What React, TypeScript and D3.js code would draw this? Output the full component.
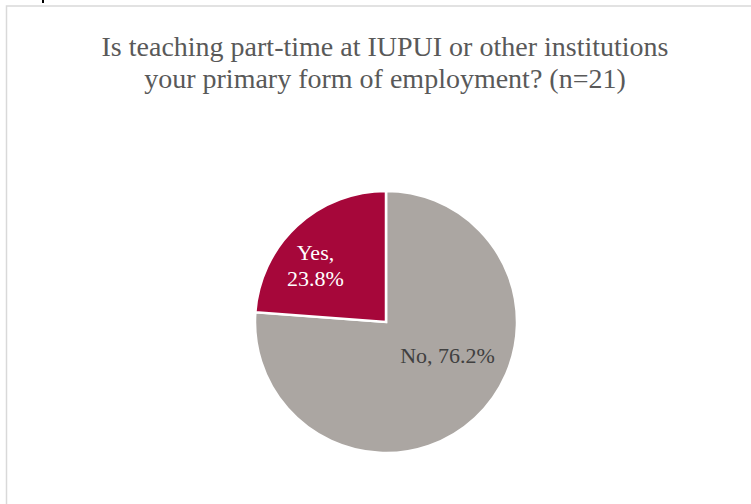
import * as React from "react";
import { arc, pie, PieArcDatum, scaleOrdinal } from "d3";

const categories = ["No", "Yes"];
const values = [76.2, 23.8];
const titleLines = [
  "Is teaching part-time at IUPUI or other institutions",
  "your primary form of employment? (n=21)",
];

const W = 751;
const H = 504;
const cx = 386;
const cy = 322;
const radius = 131;
const serif = "'Liberation Serif', 'DejaVu Serif', serif";

const colour = scaleOrdinal<string, string>()
  .domain(categories)
  .range(["#aba6a2", "#a6073a"]);

const textColour: Record<string, string> = { No: "#404040", Yes: "#ffffff" };

// excel "best fit" places the labels a bit off the mid angle
const labelNudge: Record<string, [number, number]> = {
  No: [1, -30],
  Yes: [-10, 10],
};

interface Datum {
  name: string;
  value: number;
}

const data: Datum[] = categories.map((name, i) => ({ name, value: values[i] }));

const Slice = (props: { d: PieArcDatum<Datum> }) => {
  const { d } = props;
  const shape = arc<PieArcDatum<Datum>>().innerRadius(0).outerRadius(radius);
  return (
    <path
      d={shape(d) || ""}
      fill={colour(d.data.name)}
      stroke="#ffffff"
      strokeWidth={2.5}
      strokeLinejoin="miter"
    />
  );
};

const Label = (props: { d: PieArcDatum<Datum> }) => {
  const { d } = props;
  const labelArc = arc<PieArcDatum<Datum>>()
    .innerRadius(radius * 0.68)
    .outerRadius(radius * 0.68);
  const [x, y] = labelArc.centroid(d);
  const [nx, ny] = labelNudge[d.data.name];
  const txt = `${d.data.name}, ${d.data.value.toFixed(1)}%`;
  const lines = d.data.name === "Yes" ? [`${d.data.name},`, `${d.data.value.toFixed(1)}%`] : [txt];
  const lh = 26;
  const y0 = y + ny - ((lines.length - 1) * lh) / 2 + 6;
  return (
    <text
      x={x + nx}
      y={y0}
      textAnchor="middle"
      fontFamily={serif}
      fontSize={22}
      fill={textColour[d.data.name]}
    >
      {lines.map((l, i) => (
        <tspan key={i} x={x + nx} y={y0 + i * lh}>
          {l}
        </tspan>
      ))}
    </text>
  );
};

export default function App() {
  const arcs = pie<Datum>()
    .sort(null)
    .value((d) => d.value)(data);

  return (
    <div style={{ position: "absolute", left: 0, top: 0 }}>
      <svg width={W} height={H} style={{ display: "block" }}>
        <rect x={0} y={0} width={W} height={H} fill="#ffffff" />
        <rect x={42} y={0} width={2} height={3} fill="#000000" />
        <rect
          x={6.5}
          y={6}
          width={W + 20}
          height={H + 20}
          fill="none"
          stroke="#d9d9d9"
          strokeWidth={1.5}
        />
        <g>
          {titleLines.map((t, i) => (
            <text
              key={i}
              x={385}
              y={56 + i * 32}
              textAnchor="middle"
              fontFamily={serif}
              fontSize={28}
              fill="#595959"
            >
              {t}
            </text>
          ))}
        </g>
        <g transform={`translate(${cx},${cy})`}>
          {arcs.map((d, i) => (
            <Slice key={i} d={d} />
          ))}
          {arcs.map((d, i) => (
            <Label key={i} d={d} />
          ))}
        </g>
      </svg>
    </div>
  );
}
